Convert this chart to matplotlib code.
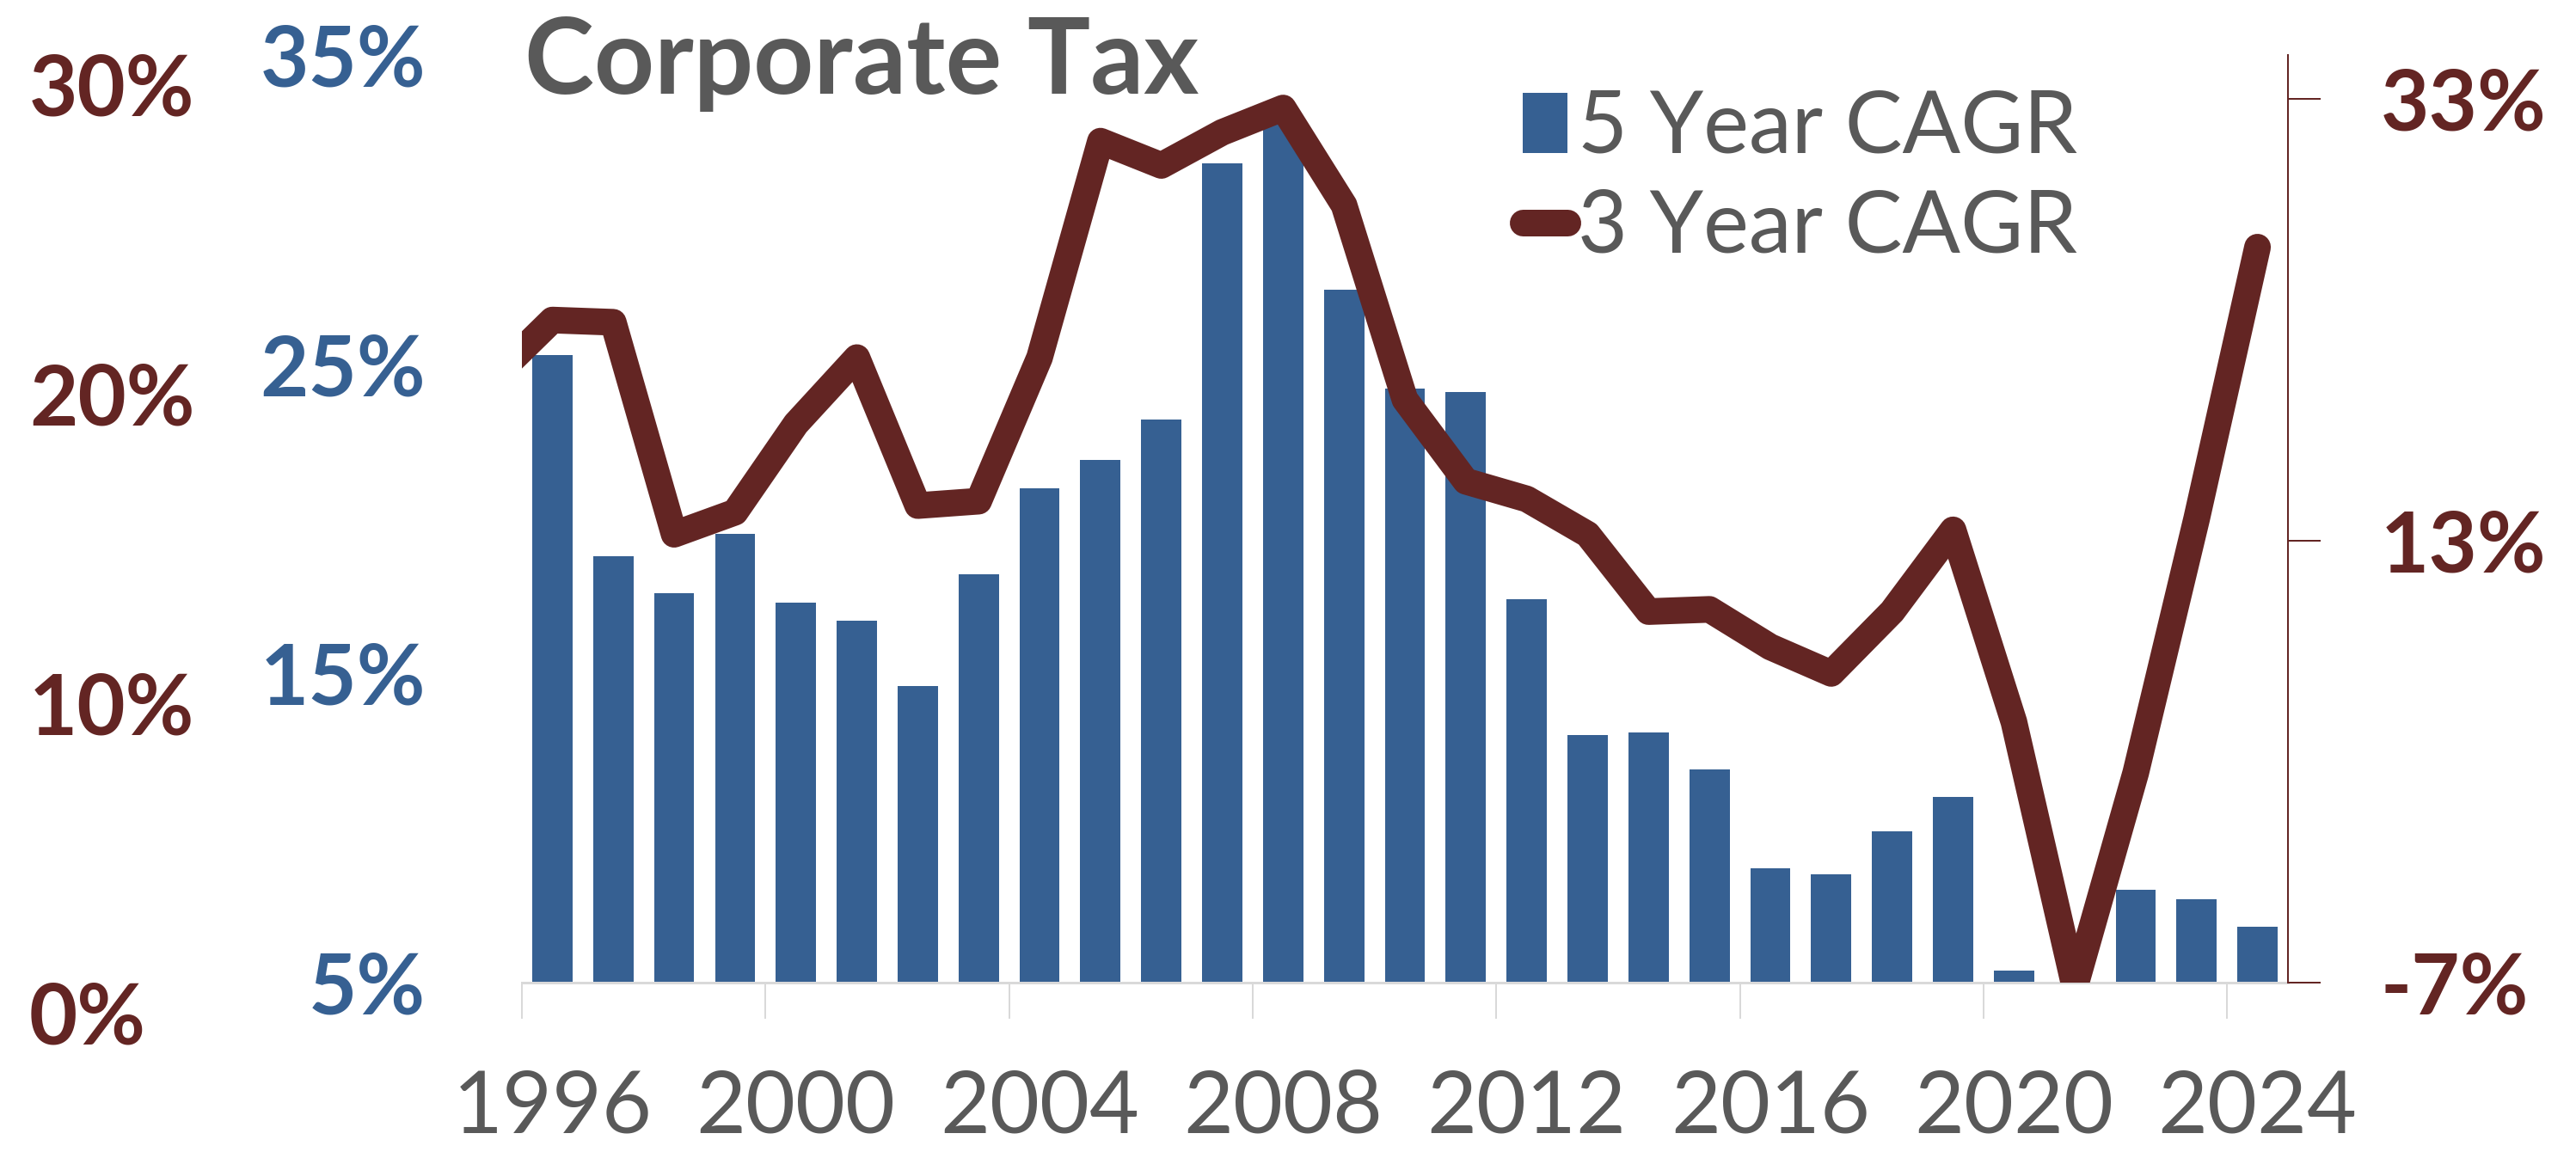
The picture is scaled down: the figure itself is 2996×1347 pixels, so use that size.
import numpy as np
import matplotlib
matplotlib.use("Agg")
import matplotlib.pyplot as plt
from matplotlib.lines import Line2D
from matplotlib.patches import Patch
from matplotlib.ticker import FuncFormatter

# 5 year CAGR (bars, left scale) and 3 year CAGR (line, right scale), in %
years = list(range(1996, 2025))
cagr_5y = [25.3, 18.8, 17.6, 19.5, 17.3, 16.7, 14.6, 18.2, 21.0, 21.9,
           23.2, 31.5, 32.8, 27.4, 24.2, 24.1, 17.4, 13.0, 13.1, 11.9,
           8.7, 8.5, 9.9, 11.0, 5.4, 4.8, 8.0, 7.7, 6.8]
years_3y = list(range(1995, 2025))
cagr_3y = [20.3, 23.0, 22.9, 13.3, 14.3, 18.3, 21.3, 14.6, 14.8, 21.3,
           31.1, 30.0, 31.5, 32.6, 28.2, 19.4, 15.7, 14.9, 13.3, 9.8,
           9.9, 8.2, 7.0, 9.8, 13.5, 4.8, -7.2, 2.5, 14.0, 26.3]

left_ticks = [5, 15, 25, 35]
right_ticks = [-7, 13, 33]
outer_ticks = [0, 10, 20, 30]
year_ticks = list(range(1996, 2025, 4))

blue = '#366092'
maroon = '#632523'
grey = '#595959'
axis_grey = '#D9D9D9'

plt.rcParams['font.family'] = ['Lato', 'DejaVu Sans']

DPI = 100
W, H = 2996, 1347
px = 72.0 / DPI          # points per pixel
pct = FuncFormatter(lambda v, p: '%d%%' % v)

fig = plt.figure(figsize=(W / DPI, H / DPI), dpi=DPI)

# main axes: bars on the left scale
ax = fig.add_axes([607 / W, 204 / H, 2054 / W, 1079 / H])
xb = np.array(years) - years[0]
ax.bar(xb, cagr_5y, width=0.66, color=blue, zorder=2)
ax.set_xlim(-0.5, len(years) - 0.5)
ax.set_ylim(5, 35)

for s in ['left', 'top', 'right']:
    ax.spines[s].set_visible(False)
ax.spines['bottom'].set_color(axis_grey)
ax.spines['bottom'].set_linewidth(3 * px)

ax.set_xticks([y - years[0] for y in year_ticks])
ax.set_xticklabels([str(y) for y in year_ticks])
ax.set_xticks(np.arange(-0.5, len(years) - 1, 4), minor=True)
ax.tick_params(axis='x', which='major', length=0, pad=72, labelsize=72,
               labelcolor=grey)
ax.tick_params(axis='x', which='minor', length=42 * px, width=2 * px,
               color=axis_grey)

ax.set_yticks(left_ticks)
ax.yaxis.set_major_formatter(pct)
ax.tick_params(axis='y', length=0, pad=112 * px, labelsize=70,
               labelcolor=blue)
for t in ax.get_yticklabels():
    t.set_fontweight('bold')

# 3 year CAGR on the right scale
ax2 = ax.twinx()
xl = np.array(years_3y) - years[0]
ax2.plot(xl, cagr_3y, color=maroon, lw=31 * px, solid_joinstyle='round',
         solid_capstyle='round', zorder=3)
ax2.set_ylim(-7, 35)
for s in ['left', 'top', 'bottom']:
    ax2.spines[s].set_visible(False)
ax2.spines['right'].set_color(maroon)
ax2.spines['right'].set_linewidth(2 * px)
ax2.set_yticks(right_ticks)
ax2.yaxis.set_major_formatter(pct)
ax2.tick_params(axis='y', length=38 * px, width=2 * px, color=maroon,
                pad=70 * px, labelsize=70, labelcolor=maroon)
for t in ax2.get_yticklabels():
    t.set_fontweight('bold')

# outer left scale
ax3 = fig.add_axes([0, 169 / H, 34 / W, 1080 / H])
ax3.set_ylim(0, 30)
ax3.patch.set_visible(False)
for s in ax3.spines.values():
    s.set_visible(False)
ax3.set_xticks([])
ax3.yaxis.tick_right()
ax3.set_yticks(outer_ticks)
ax3.yaxis.set_major_formatter(pct)
ax3.tick_params(axis='y', length=0, pad=0, labelsize=70, labelcolor=maroon)
for t in ax3.get_yticklabels():
    t.set_fontweight('bold')

# legend
handles = [Patch(facecolor=blue),
           Line2D([], [], color=maroon, lw=31 * px, solid_capstyle='round')]
fig.legend(handles, ['5 Year CAGR', '3 Year CAGR'], loc='center left',
           bbox_to_anchor=(1771 / W, 1 - 207 / H), frameon=False,
           fontsize=72, handlelength=0.52, handletextpad=0.12,
           labelspacing=0.25, borderpad=0, borderaxespad=0,
           labelcolor=grey)

fig.text(610 / W, 1 - 109 / H, 'Corporate Tax', fontsize=88,
         fontweight='bold', color=grey, ha='left', va='baseline')

fig.savefig('out.png', dpi=DPI)
